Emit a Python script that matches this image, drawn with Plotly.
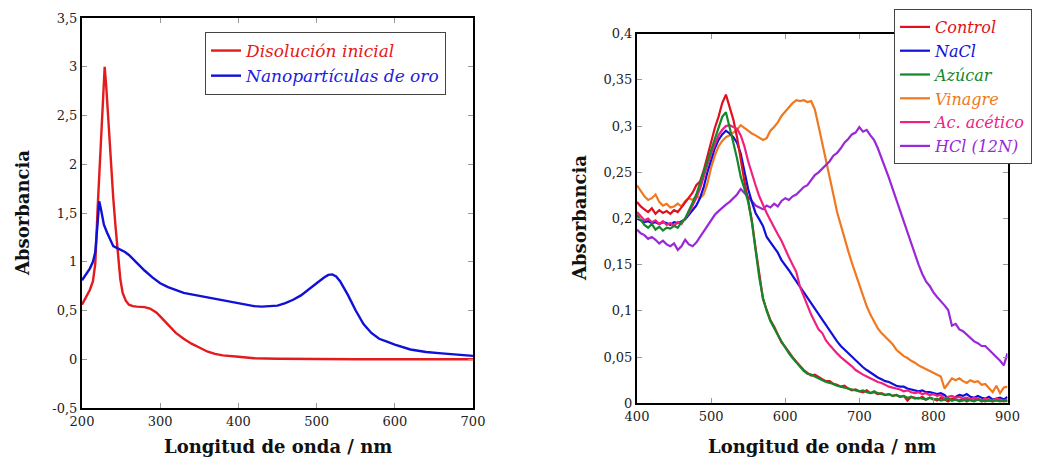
import plotly.graph_objects as go

# ---------------- Left chart data ----------------
wl_dis = [200, 205, 210, 214, 217, 220, 223, 226, 229, 231, 234, 237, 240, 243, 246, 249, 252, 256,
          260, 265, 270, 280, 287, 295, 300, 310, 320, 330, 340, 350, 360, 370, 380, 400, 420, 450,
          500, 550, 600, 650, 700]
abs_dis = [0.56, 0.63, 0.71, 0.80, 0.98, 1.55, 2.0, 2.5, 3.0, 2.8, 2.4, 2.0, 1.65, 1.35, 1.05, 0.82,
           0.68, 0.60, 0.56, 0.545, 0.54, 0.535, 0.52, 0.48, 0.44, 0.35, 0.27, 0.21, 0.16, 0.12, 0.08,
           0.055, 0.04, 0.025, 0.01, 0.005, 0.0, 0.0, 0.0, 0.0, 0.0]

wl_nano = [200, 205, 210, 214, 217, 220, 222, 224, 226, 228, 232, 236, 240, 245, 250, 255, 260, 265,
           270, 280, 290, 300, 310, 320, 330, 340, 350, 360, 370, 380, 390, 400, 410, 420, 430, 440,
           450, 460, 470, 480, 490, 500, 510, 515, 520, 525, 530, 540, 550, 560, 570, 580, 590, 600,
           620, 640, 660, 680, 700]
abs_nano = [0.81, 0.87, 0.93, 1.0, 1.1, 1.4, 1.62, 1.55, 1.45, 1.38, 1.30, 1.22, 1.16, 1.14, 1.12,
            1.10, 1.07, 1.03, 0.98, 0.91, 0.84, 0.78, 0.74, 0.71, 0.68, 0.665, 0.65, 0.635, 0.62,
            0.61, 0.59, 0.575, 0.56, 0.545, 0.54, 0.545, 0.55, 0.575, 0.61, 0.655, 0.72, 0.78, 0.84,
            0.865, 0.87, 0.85, 0.80, 0.66, 0.50, 0.36, 0.27, 0.21, 0.18, 0.15, 0.10, 0.075, 0.06,
            0.045, 0.035]

# ---------------- Right chart data (400-900 nm, every 5 nm) ----------------
wl_r = list(range(400, 901, 5))

control = [0.218, 0.213, 0.210, 0.207, 0.211, 0.205, 0.209, 0.206, 0.208, 0.205,
           0.209, 0.207, 0.212, 0.217, 0.222, 0.228, 0.236, 0.240, 0.252, 0.268,
           0.284, 0.298, 0.310, 0.325, 0.334, 0.320, 0.307, 0.288, 0.262, 0.240,
           0.220, 0.198, 0.168, 0.138, 0.113, 0.101, 0.090, 0.083, 0.075, 0.066,
           0.061, 0.055, 0.050, 0.045, 0.040, 0.036, 0.033, 0.030, 0.031, 0.028,
           0.026, 0.024, 0.024, 0.021, 0.020, 0.018, 0.019, 0.016, 0.014, 0.015,
           0.013, 0.012, 0.014, 0.011, 0.012, 0.010, 0.011, 0.009, 0.010, 0.008,
           0.009, 0.007, 0.008, 0.003, 0.007, 0.006, 0.005, 0.007, 0.004, 0.006,
           0.005, 0.003, 0.006, 0.004, 0.002, 0.005, 0.004, 0.003, 0.005, 0.002,
           0.004, 0.003, 0.005, 0.002, 0.004, 0.003, 0.002, 0.004, 0.003, 0.002,
           0.003]

nacl = [0.200, 0.198, 0.196, 0.197, 0.195, 0.196, 0.194, 0.196, 0.195, 0.193,
        0.196, 0.195, 0.197, 0.199, 0.204, 0.209, 0.214, 0.222, 0.234, 0.250,
        0.264, 0.276, 0.285, 0.291, 0.295, 0.292, 0.288, 0.282, 0.270, 0.252,
        0.232, 0.218, 0.206, 0.199, 0.192, 0.180, 0.174, 0.168, 0.163, 0.155,
        0.150, 0.144, 0.138, 0.132, 0.126, 0.120, 0.114, 0.108, 0.102, 0.096,
        0.090, 0.084, 0.078, 0.072, 0.067, 0.062, 0.058, 0.054, 0.050, 0.046,
        0.042, 0.039, 0.036, 0.033, 0.031, 0.028, 0.026, 0.024, 0.023, 0.021,
        0.019, 0.018, 0.018, 0.016, 0.015, 0.014, 0.013, 0.014, 0.012, 0.012,
        0.011, 0.010, 0.011, 0.009, 0.005, 0.003, 0.007, 0.009, 0.008, 0.010,
        0.007, 0.006, 0.008, 0.006, 0.005, 0.007, 0.004, 0.005, 0.006, 0.004,
        0.007]

azucar = [0.204, 0.198, 0.193, 0.190, 0.194, 0.188, 0.191, 0.187, 0.190, 0.189,
          0.192, 0.190, 0.196, 0.200, 0.208, 0.217, 0.226, 0.238, 0.252, 0.262,
          0.274, 0.286, 0.298, 0.310, 0.315, 0.300, 0.282, 0.265, 0.245, 0.232,
          0.218, 0.196, 0.166, 0.136, 0.114, 0.100, 0.089, 0.081, 0.074, 0.067,
          0.060, 0.054, 0.049, 0.044, 0.039, 0.035, 0.032, 0.031, 0.029, 0.027,
          0.025, 0.023, 0.022, 0.021, 0.019, 0.018, 0.017, 0.016, 0.015, 0.014,
          0.013, 0.014, 0.012, 0.011, 0.013, 0.011, 0.010, 0.009, 0.010, 0.008,
          0.009, 0.007, 0.008, 0.006, 0.007, 0.005, 0.006, 0.005, 0.004, 0.006,
          0.004, 0.005, 0.003, 0.004, 0.005, 0.003, 0.004, 0.002, 0.003, 0.004,
          0.003, 0.002, 0.004, 0.003, 0.002, 0.003, 0.002, 0.003, 0.002, 0.003,
          0.002]

vinagre = [0.236, 0.230, 0.224, 0.220, 0.222, 0.226, 0.218, 0.214, 0.216, 0.212,
           0.213, 0.216, 0.213, 0.219, 0.222, 0.220, 0.224, 0.222, 0.226, 0.238,
           0.255, 0.268, 0.278, 0.284, 0.288, 0.290, 0.293, 0.296, 0.301, 0.298,
           0.294, 0.292, 0.290, 0.287, 0.285, 0.287, 0.295, 0.299, 0.304, 0.311,
           0.316, 0.320, 0.325, 0.328, 0.327, 0.328, 0.326, 0.327, 0.318, 0.300,
           0.282, 0.265, 0.245, 0.226, 0.207, 0.192, 0.178, 0.165, 0.152, 0.140,
           0.128, 0.115, 0.105, 0.096, 0.088, 0.081, 0.076, 0.072, 0.068, 0.064,
           0.058, 0.054, 0.051, 0.049, 0.046, 0.044, 0.041, 0.039, 0.037, 0.035,
           0.033, 0.031, 0.029, 0.016, 0.022, 0.027, 0.025, 0.027, 0.024, 0.022,
           0.025, 0.023, 0.024, 0.020, 0.021, 0.017, 0.012, 0.019, 0.011, 0.017,
           0.018]

acetico = [0.207, 0.203, 0.198, 0.200, 0.196, 0.198, 0.194, 0.197, 0.193, 0.195,
           0.192, 0.196, 0.194, 0.200, 0.206, 0.214, 0.222, 0.232, 0.246, 0.258,
           0.270, 0.281, 0.290, 0.296, 0.300, 0.301, 0.299, 0.297, 0.290, 0.278,
           0.262, 0.248, 0.236, 0.224, 0.214, 0.206, 0.198, 0.190, 0.183, 0.176,
           0.166, 0.158, 0.150, 0.142, 0.126, 0.116, 0.105, 0.096, 0.088, 0.080,
           0.076, 0.068, 0.063, 0.058, 0.054, 0.050, 0.047, 0.044, 0.040, 0.036,
           0.033, 0.031, 0.029, 0.027, 0.025, 0.023, 0.022, 0.020, 0.018, 0.017,
           0.016, 0.015, 0.013, 0.014, 0.012, 0.011, 0.012, 0.010, 0.011, 0.009,
           0.010, 0.008, 0.009, 0.005, 0.007, 0.008, 0.006, 0.007, 0.005, 0.006,
           0.004, 0.006, 0.005, 0.003, 0.005, 0.004, 0.003, 0.005, 0.004, 0.003,
           0.004]

hcl = [0.188, 0.184, 0.182, 0.178, 0.180, 0.177, 0.173, 0.176, 0.172, 0.170,
       0.173, 0.166, 0.170, 0.177, 0.172, 0.170, 0.174, 0.180, 0.185, 0.192,
       0.198, 0.204, 0.208, 0.212, 0.215, 0.218, 0.222, 0.226, 0.232, 0.228,
       0.223, 0.219, 0.214, 0.212, 0.210, 0.214, 0.212, 0.216, 0.213, 0.219,
       0.222, 0.220, 0.224, 0.226, 0.230, 0.234, 0.236, 0.241, 0.247, 0.250,
       0.254, 0.258, 0.262, 0.268, 0.271, 0.276, 0.282, 0.286, 0.291, 0.293,
       0.299, 0.294, 0.296, 0.290, 0.285, 0.276, 0.266, 0.256, 0.244, 0.232,
       0.220, 0.210, 0.198, 0.186, 0.173, 0.160, 0.150, 0.140, 0.132, 0.127,
       0.120, 0.115, 0.111, 0.106, 0.101, 0.084, 0.086, 0.080, 0.078, 0.074,
       0.071, 0.067, 0.065, 0.062, 0.062, 0.058, 0.055, 0.050, 0.046, 0.041,
       0.054]

left_yticks = [-0.5, 0, 0.5, 1, 1.5, 2, 2.5, 3, 3.5]
left_ylabels = ["-0,5", "0", "0,5", "1", "1,5", "2", "2,5", "3", "3,5"]
left_xticks = [200, 300, 400, 500, 600, 700]
right_yticks = [0, 0.05, 0.1, 0.15, 0.2, 0.25, 0.3, 0.35, 0.4]
right_ylabels = ["0", "0,05", "0,1", "0,15", "0,2", "0,25", "0,3", "0,35", "0,4"]
right_xticks = [400, 500, 600, 700, 800, 900]

FONT = "DejaVu Serif"
W, H = 1041, 459


def name(txt, col):
    return f"<i><span style='color:{col}'>{txt}</span></i>"


fig = go.Figure()
fig.add_trace(go.Scatter(x=wl_dis, y=abs_dis, mode="lines", line=dict(color="#e41a1c", width=2.4),
                         name=name("Disolución inicial", "#e41a1c"), xaxis="x", yaxis="y", legend="legend"))
fig.add_trace(go.Scatter(x=wl_nano, y=abs_nano, mode="lines", line=dict(color="#1010d8", width=2.4),
                         name=name("Nanopartículas de oro", "#2020e0"), xaxis="x", yaxis="y", legend="legend"))

series = [
    ("Control", control, "#e01020"),
    ("NaCl", nacl, "#1010d8"),
    ("Azúcar", azucar, "#12882a"),
    ("Vinagre", vinagre, "#f07820"),
    ("Ac. acético", acetico, "#f0207f"),
    ("HCl (12N)", hcl, "#9a28d8"),
]
draw_order = ["Vinagre", "HCl (12N)", "NaCl", "Control", "Ac. acético", "Azúcar"]
traces = {}
for nm, vals, col in series:
    traces[nm] = go.Scatter(x=wl_r[:len(vals)], y=vals, mode="lines", line=dict(color=col, width=2.2),
                            name=name(nm, col), xaxis="x2", yaxis="y2", legend="legend2")
legend_rank = {nm: i for i, (nm, _, _) in enumerate(series)}
for nm in draw_order:
    t = traces[nm]
    t.legendrank = legend_rank[nm] + 1
    fig.add_trace(t)

axis_common = dict(showgrid=False, zeroline=False, showline=True, linecolor="black", linewidth=2,
                   mirror="ticks", ticks="inside", ticklen=5, tickcolor="#999999", tickwidth=1,
                   automargin=False,
                   tickfont=dict(family=FONT, size=13, color="#222222"))

fig.update_layout(
    width=W, height=H, margin=dict(l=0, r=0, t=0, b=0, autoexpand=False),
    paper_bgcolor="white", plot_bgcolor="white",
    font=dict(family=FONT),
    xaxis=dict(domain=[82 / W, 473 / W], range=[200, 700], tickvals=left_xticks, anchor="y", **axis_common),
    yaxis=dict(domain=[1 - 408 / H, 1 - 18 / H], range=[-0.5, 3.5], tickvals=left_yticks,
               ticktext=left_ylabels, anchor="x", **axis_common),
    xaxis2=dict(domain=[637 / W, 1007.5 / W], range=[400, 900], tickvals=right_xticks, anchor="y2", **axis_common),
    yaxis2=dict(domain=[1 - 403.3 / H, 1 - 33.7 / H], range=[0, 0.4], tickvals=right_yticks,
                ticktext=right_ylabels, anchor="x2", **axis_common),
    legend=dict(x=205 / W, y=1 - 32 / H, xanchor="left", yanchor="top", bgcolor="white",
                bordercolor="#444444", borderwidth=1, font=dict(family=FONT, size=17),
                tracegroupgap=0, itemwidth=30),
    legend2=dict(x=894 / W, y=1 - 9 / H, xanchor="left", yanchor="top", bgcolor="white",
                 bordercolor="#444444", borderwidth=1, font=dict(family=FONT, size=16),
                 tracegroupgap=0, itemwidth=30, traceorder="normal"),
    showlegend=True,
)

title_font = dict(family=FONT, size=18, color="#111111")
for x, y, txt, ang in [(278 / W, 1 - 446 / H, "<b>Longitud de onda / nm</b>", 0),
                       (822 / W, 1 - 446 / H, "<b>Longitud de onda / nm</b>", 0),
                       (22 / W, 1 - 213 / H, "<b>Absorbancia</b>", -90),
                       (580 / W, 1 - 218 / H, "<b>Absorbancia</b>", -90)]:
    fig.add_annotation(x=x, y=y, xref="paper", yref="paper", text=txt, showarrow=False,
                       textangle=ang, font=title_font, xanchor="center", yanchor="middle")

fig.write_html("out.html")
